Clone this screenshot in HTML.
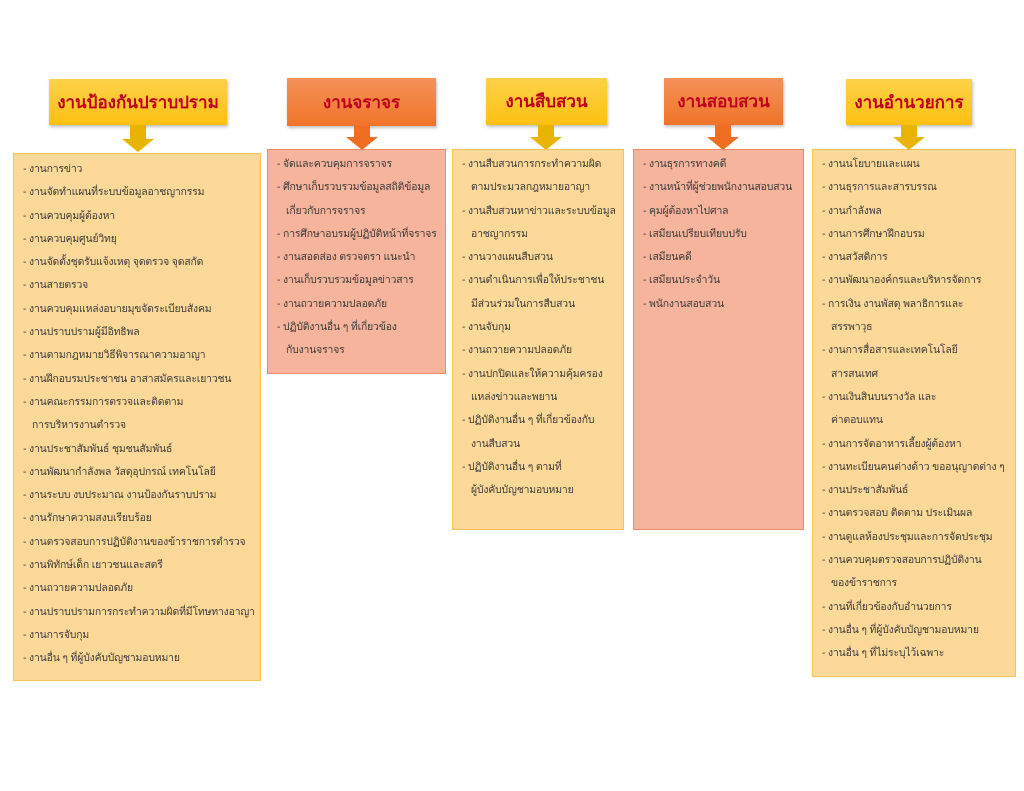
<!DOCTYPE html>
<html><head><meta charset="utf-8"><style>
body{margin:0;width:1024px;height:791px;background:#fff;position:relative;overflow:hidden;font-family:"Liberation Sans","DejaVu Sans","Noto Sans CJK SC",sans-serif;}
.h{position:absolute;box-sizing:border-box;display:flex;align-items:center;justify-content:center;color:#c0001e;font-weight:bold;font-size:17px;box-shadow:1px 2px 3px rgba(0,0,0,.25);}
.y{background:linear-gradient(#fdd24a,#fcc010);}
.o{background:linear-gradient(#f4925a,#f07428);}
.b{position:absolute;box-sizing:border-box;font-size:10.4px;letter-spacing:-0.15px;color:#3a3a3a;line-height:23.3px;padding-left:9px;}
.by{background:#fdd999;border:1px solid #f6c453;}
.bo{background:#f6b49c;border:1px solid #ea8a68;}
.b div{white-space:nowrap}
.i{padding-left:9px}
svg{position:absolute}
</style></head><body>
<div class="h y" style="left:49px;top:79px;width:178px;height:46px">งานป้องกันปราบปราม</div>
<div class="h o" style="left:287px;top:78px;width:149px;height:48px">งานจราจร</div>
<div class="h y" style="left:486px;top:78px;width:121px;height:47px">งานสืบสวน</div>
<div class="h o" style="left:664px;top:78px;width:119px;height:47px">งานสอบสวน</div>
<div class="h y" style="left:846px;top:79px;width:126px;height:46px">งานอำนวยการ</div>

<svg style="left:122px;top:125px" width="32" height="28"><polygon points="8,0 24,0 24,14 32,14 16,27 0,14 8,14" fill="#e8b400"/></svg>
<svg style="left:346px;top:126px" width="32" height="24"><polygon points="8,0 24,0 24,11 32,11 16,24 0,11 8,11" fill="#ef6e22"/></svg>
<svg style="left:530px;top:125px" width="32" height="25"><polygon points="8,0 24,0 24,12 32,12 16,25 0,12 8,12" fill="#e8b400"/></svg>
<svg style="left:707px;top:125px" width="32" height="25"><polygon points="8,0 24,0 24,12 32,12 16,25 0,12 8,12" fill="#ef6e22"/></svg>
<svg style="left:893px;top:125px" width="32" height="25"><polygon points="8,0 24,0 24,12 32,12 16,25 0,12 8,12" fill="#e8b400"/></svg>

<div class="b by" style="left:13px;top:153px;width:248px;height:528px;padding-top:4px">
<div>- งานการข่าว</div><div>- งานจัดทำแผนที่ระบบข้อมูลอาชญากรรม</div><div>- งานควบคุมผู้ต้องหา</div><div>- งานควบคุมศูนย์วิทยุ</div><div>- งานจัดตั้งชุดรับแจ้งเหตุ จุดตรวจ จุดสกัด</div><div>- งานสายตรวจ</div><div>- งานควบคุมแหล่งอบายมุขจัดระเบียบสังคม</div><div>- งานปราบปรามผู้มีอิทธิพล</div><div>- งานตามกฎหมายวิธีพิจารณาความอาญา</div><div>- งานฝึกอบรมประชาชน อาสาสมัครและเยาวชน</div><div>- งานคณะกรรมการตรวจและติดตาม</div><div class="i">การบริหารงานตำรวจ</div><div>- งานประชาสัมพันธ์ ชุมชนสัมพันธ์</div><div>- งานพัฒนากำลังพล วัสดุอุปกรณ์ เทคโนโลยี</div><div>- งานระบบ งบประมาณ งานป้องกันราบปราม</div><div>- งานรักษาความสงบเรียบร้อย</div><div>- งานตรวจสอบการปฏิบัติงานของข้าราชการตำรวจ</div><div>- งานพิทักษ์เด็ก เยาวชนและสตรี</div><div>- งานถวายความปลอดภัย</div><div>- งานปราบปรามการกระทำความผิดที่มีโทษทางอาญา</div><div>- งานการจับกุม</div><div>- งานอื่น ๆ ที่ผู้บังคับบัญชามอบหมาย</div>
</div>

<div class="b bo" style="left:267px;top:149px;width:179px;height:225px;padding-top:3px">
<div>- จัดและควบคุมการจราจร</div><div>- ศึกษาเก็บรวบรวมข้อมูลสถิติข้อมูล</div><div class="i">เกี่ยวกับการจราจร</div><div>- การศึกษาอบรมผู้ปฏิบัติหน้าที่จราจร</div><div>- งานสอดส่อง ตรวจตรา แนะนำ</div><div>- งานเก็บรวบรวมข้อมูลข่าวสาร</div><div>- งานถวายความปลอดภัย</div><div>- ปฏิบัติงานอื่น ๆ ที่เกี่ยวข้อง</div><div class="i">กับงานจราจร</div>
</div>

<div class="b by" style="left:452px;top:149px;width:172px;height:381px;padding-top:3px">
<div>- งานสืบสวนการกระทำความผิด</div><div class="i">ตามประมวลกฎหมายอาญา</div><div>- งานสืบสวนหาข่าวและระบบข้อมูล</div><div class="i">อาชญากรรม</div><div>- งานวางแผนสืบสวน</div><div>- งานดำเนินการเพื่อให้ประชาชน</div><div class="i">มีส่วนร่วมในการสืบสวน</div><div>- งานจับกุม</div><div>- งานถวายความปลอดภัย</div><div>- งานปกปิดและให้ความคุ้มครอง</div><div class="i">แหล่งข่าวและพยาน</div><div>- ปฏิบัติงานอื่น ๆ ที่เกี่ยวข้องกับ</div><div class="i">งานสืบสวน</div><div>- ปฏิบัติงานอื่น ๆ ตามที่</div><div class="i">ผู้บังคับบัญชามอบหมาย</div>
</div>

<div class="b bo" style="left:633px;top:149px;width:171px;height:381px;padding-top:3px">
<div>- งานธุรการทางคดี</div><div>- งานหน้าที่ผู้ช่วยพนักงานสอบสวน</div><div>- คุมผู้ต้องหาไปศาล</div><div>- เสมียนเปรียบเทียบปรับ</div><div>- เสมียนคดี</div><div>- เสมียนประจำวัน</div><div>- พนักงานสอบสวน</div>
</div>

<div class="b by" style="left:812px;top:149px;width:204px;height:528px;padding-top:3px">
<div>- งานนโยบายและแผน</div><div>- งานธุรการและสารบรรณ</div><div>- งานกำลังพล</div><div>- งานการศึกษาฝึกอบรม</div><div>- งานสวัสดิการ</div><div>- งานพัฒนาองค์กรและบริหารจัดการ</div><div>- การเงิน งานพัสดุ พลาธิการและ</div><div class="i">สรรพาวุธ</div><div>- งานการสื่อสารและเทคโนโลยี</div><div class="i">สารสนเทศ</div><div>- งานเงินสินบนรางวัล และ</div><div class="i">ค่าตอบแทน</div><div>- งานการจัดอาหารเลี้ยงผู้ต้องหา</div><div>- งานทะเบียนคนต่างด้าว ขออนุญาตต่าง ๆ</div><div>- งานประชาสัมพันธ์</div><div>- งานตรวจสอบ ติดตาม ประเมินผล</div><div>- งานดูแลห้องประชุมและการจัดประชุม</div><div>- งานควบคุมตรวจสอบการปฏิบัติงาน</div><div class="i">ของข้าราชการ</div><div>- งานที่เกี่ยวข้องกับอำนวยการ</div><div>- งานอื่น ๆ ที่ผู้บังคับบัญชามอบหมาย</div><div>- งานอื่น ๆ ที่ไม่ระบุไว้เฉพาะ</div>
</div>
</body></html>
